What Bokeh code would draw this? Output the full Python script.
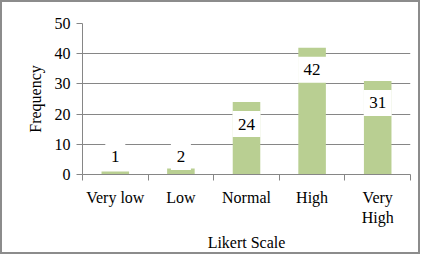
from bokeh.plotting import figure
from bokeh.models import ColumnDataSource, Range1d, FixedTicker
from bokeh.core.properties import value
from bokeh.embed import file_html
from bokeh.resources import INLINE

categories = ["Very low", "Low", "Normal", "High", "Very\nHigh"]
frequency = [1, 2, 24, 42, 31]
y_ticks = [0, 10, 20, 30, 40, 50]

FONT = "Liberation Serif"
GRID = "#868686"
BAR = "#B9CF92"

xs = list(range(len(categories)))
label_y = [max(v - 7.3, 5.8) for v in frequency]
txt = [str(v) for v in frequency]
box_w = [12 + 8 * len(t) for t in txt]
src = ColumnDataSource(dict(x=xs, top=frequency, ly=label_y, txt=txt, bw=box_w))

p = figure(width=420, height=254, output_backend="svg", toolbar_location=None,
           x_range=Range1d(-0.5, len(categories) - 0.5), y_range=Range1d(0, 50),
           min_border_left=80, min_border_right=12, min_border_top=21,
           min_border_bottom=82)
p.styles = {"border": "2px solid #8c8c8c"}
p.outline_line_color = None
p.background_fill_color = "white"
p.border_fill_color = "white"

p.vbar(x="x", top="top", bottom=0, width=0.42, source=src,
       fill_color=BAR, line_color=None)

p.rect(x="x", y="ly", width="bw", height=26, width_units="screen",
       height_units="screen", source=src, fill_color="white", line_color=None)
p.text(x="x", y="ly", text="txt", source=src, text_align="center",
       text_baseline="middle", text_font=value(FONT), text_font_size="17px",
       text_color="black")

p.xgrid.grid_line_color = None
p.ygrid.grid_line_color = GRID
p.ygrid.ticker = FixedTicker(ticks=y_ticks)

p.yaxis.ticker = FixedTicker(ticks=y_ticks)
p.xaxis.ticker = FixedTicker(ticks=xs,
                             minor_ticks=[i - 0.5 for i in range(len(categories) + 1)])
p.xaxis.major_label_overrides = {i: c for i, c in enumerate(categories)}

for ax in (p.xaxis[0], p.yaxis[0]):
    ax.axis_line_color = GRID
    ax.major_label_text_font = FONT
    ax.major_label_text_font_size = "16px"
    ax.major_label_text_color = "black"
    ax.axis_label_text_font = FONT
    ax.axis_label_text_font_size = "16px"
    ax.axis_label_text_font_style = "normal"
    ax.axis_label_text_color = "black"

p.xaxis.major_tick_line_color = None
p.xaxis.minor_tick_line_color = GRID
p.xaxis.minor_tick_in = 0
p.xaxis.minor_tick_out = 6
p.xaxis.major_label_standoff = 8
p.xaxis.axis_label = "Likert Scale"
p.xaxis.axis_label_standoff = 5

p.yaxis.major_tick_line_color = GRID
p.yaxis.major_tick_in = 0
p.yaxis.major_tick_out = 6
p.yaxis.minor_tick_line_color = None
p.yaxis.major_label_standoff = 6
p.yaxis.axis_label = "Frequency"
p.yaxis.axis_label_standoff = 8

open("out.html", "w").write(file_html(p, INLINE))
